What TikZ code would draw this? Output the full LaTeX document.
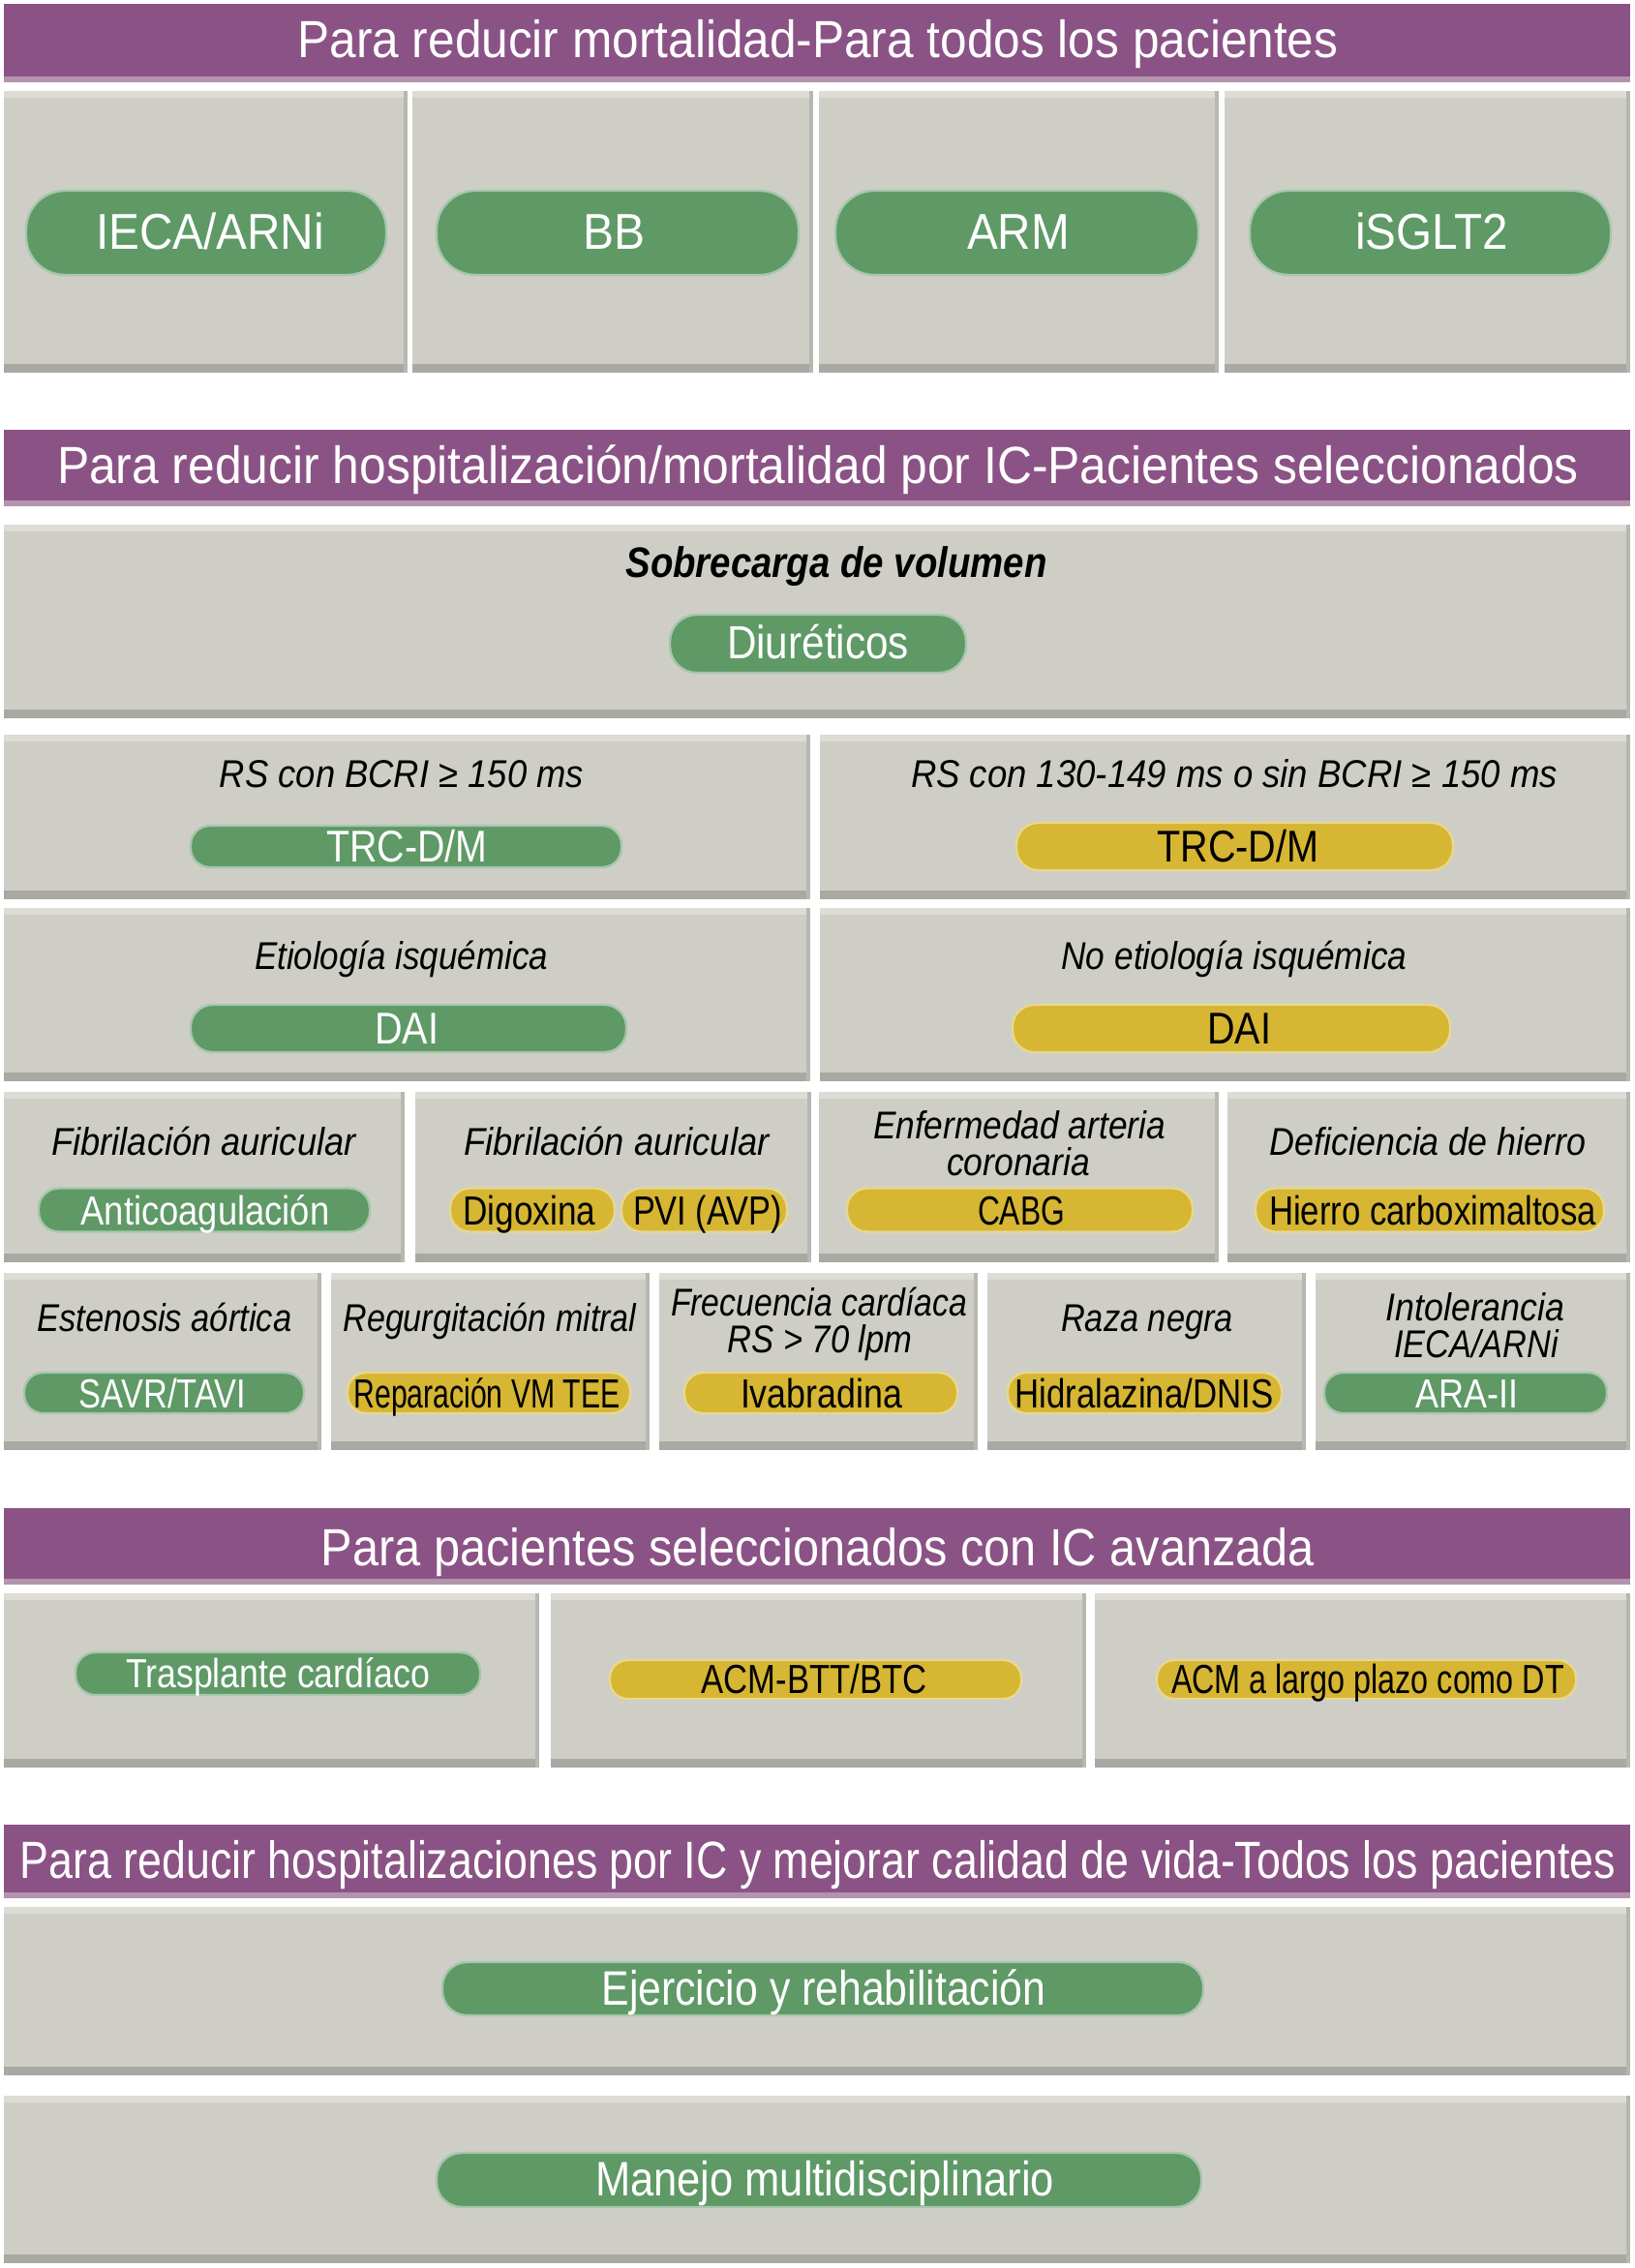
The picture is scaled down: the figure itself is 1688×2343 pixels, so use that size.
\documentclass[tikz,border=0pt]{standalone}
\usepackage{fontspec}
\setmainfont{Liberation Sans}
\usepackage{graphicx}
\definecolor{pur}{HTML}{8B5385}
\definecolor{purlt}{HTML}{B393AE}
\definecolor{pgreen}{HTML}{5E9966}
\definecolor{pyellow}{HTML}{D6B632}
\definecolor{cgray}{HTML}{CFCEC6}
\definecolor{cshadow}{HTML}{A9A8A2}
\definecolor{chi}{HTML}{DDDCD5}
\newcommand\fw[2]{\resizebox{#1}{\height}{#2}}
\newcommand\cellbox[4]{%
  \fill[cgray] (#1,#2) rectangle (#3,#4);
  \fill[chi] (#1,#2) rectangle (#3,#2+7);
  \fill[cshadow] (#1,#4-9) rectangle (#3,#4);
  \fill[cshadow!60!cgray] (#3-4,#2) rectangle (#3,#4);
}
\newcommand\headbox[2]{%
  \fill[pur] (4,#1) rectangle (1684,#2);
  \fill[purlt] (4,#2-6) rectangle (1684,#2);
}
\tikzset{
  pillbase/.style n args={3}{draw=#1!55!white, line width=1.2pt, fill=#1,
    minimum width=#2, minimum height=#3, rounded corners=0.46*#3, inner sep=0pt},
  gp/.style 2 args={pillbase={pgreen}{#1}{#2}},
  yp/.style 2 args={pillbase={pyellow}{#1}{#2}},
  hdt/.style={font=\fontsize{27}{27}\selectfont, text=white, inner sep=0pt, text height=19.3pt, text depth=0pt},
  bigt/.style={font=\fontsize{26}{26}\selectfont, text=white, inner sep=0pt, text height=18.6pt, text depth=0pt},
  ttl/.style={font=\fontsize{20}{20}\selectfont\itshape, text=black, inner sep=0pt, text height=14.3pt, text depth=0pt},
  bttl/.style={font=\fontsize{22}{22}\selectfont\bfseries\itshape, text=black, inner sep=0pt, text height=15.75pt, text depth=0pt},
  mt/.style={font=\fontsize{23}{23}\selectfont, inner sep=0pt, text height=16.5pt, text depth=0pt},
  dt/.style={font=\fontsize{24}{24}\selectfont, inner sep=0pt, text height=17.2pt, text depth=0pt},
  st/.style={font=\fontsize{21}{21}\selectfont, inner sep=0pt, text height=15pt, text depth=0pt},
  lt/.style={font=\fontsize{25}{25}\selectfont, inner sep=0pt, text height=17.9pt, text depth=0pt},
}
\begin{document}
\begin{tikzpicture}[x=0.5pt, y=-0.5pt]
\useasboundingbox (0,0) rectangle (1688,2343);
\fill[white] (0,0) rectangle (1688,2343);

% ---------- Section 1 ----------
\headbox{4}{85}
\node[hdt] (h1) at (845,40) {\fw{537.5pt}{Para reducir mortalidad-Para todos los pacientes}};
\cellbox{4}{94}{421}{385}
\cellbox{426}{94}{840}{385}
\cellbox{846}{94}{1259}{385}
\cellbox{1265}{94}{1684}{385}
\node[gp={186pt}{43.5pt}] (p1) at (213,240.5) {};
\node[gp={187pt}{43.5pt}] (p2) at (638,240.5) {};
\node[gp={187.5pt}{43.5pt}] (p3) at (1050.5,240.5) {};
\node[gp={186.5pt}{43.5pt}] (p4) at (1477.5,240.5) {};
\node[bigt] (t1) at (217,239) {\fw{118pt}{IECA/ARNi}};
\node[bigt] (t2) at (634,239) {\fw{32pt}{BB}};
\node[bigt] (t3) at (1052,239) {\fw{53pt}{ARM}};
\node[bigt] (t4) at (1479,239) {\fw{79pt}{iSGLT2}};

% ---------- Section 2 ----------
\headbox{444}{523}
\node[hdt] (h2) at (845,480) {\fw{786pt}{Para reducir hospitalización/mortalidad por IC-Pacientes seleccionados}};
\cellbox{4}{542}{1684}{742}
\node[bttl] (sv) at (864,581) {\fw{217.5pt}{Sobrecarga de volumen}};
\node[gp={153pt}{30pt}] (pd) at (845,665) {};
\node[dt, text=white] (td) at (845,663) {\fw{94pt}{Diuréticos}};

\cellbox{4}{759}{837}{929}
\cellbox{847}{759}{1684}{929}
\node[ttl] (rs1) at (415,799) {\fw{188pt}{RS con BCRI ≥ 150 ms}};
\node[ttl] (rs2) at (1275,799) {\fw{334pt}{RS con 130-149 ms o sin BCRI ≥ 150 ms}};
\node[gp={222.5pt}{21.5pt}] (ptl) at (419.5,874.5) {};
\node[yp={225.5pt}{24.5pt}] (ptr) at (1275.5,874.5) {};
\node[mt, text=white] (ttl1) at (420.5,874) {\fw{83pt}{TRC-D/M}};
\node[mt, text=black] (ttr1) at (1279,874) {\fw{83.5pt}{TRC-D/M}};

\cellbox{4}{938}{837}{1117}
\cellbox{847}{938}{1684}{1117}
\node[ttl] (et1) at (414.5,987) {\fw{151.5pt}{Etiología isquémica}};
\node[ttl] (et2) at (1275,987) {\fw{178.5pt}{No etiología isquémica}};
\node[gp={225pt}{24.5pt}] (pdl) at (422,1062.5) {};
\node[yp={226pt}{24.5pt}] (pdr) at (1272,1062.5) {};
\node[mt, text=white] (tdl) at (420,1062) {\fw{33pt}{DAI}};
\node[mt, text=black] (tdr) at (1280,1062) {\fw{33pt}{DAI}};

\cellbox{4}{1128}{418}{1304}
\cellbox{429}{1128}{838}{1304}
\cellbox{846}{1128}{1259}{1304}
\cellbox{1268}{1128}{1684}{1304}
\node[ttl] (f1) at (210.5,1179) {\fw{157pt}{Fibrilación auricular}};
\node[ttl] (f2) at (637,1179) {\fw{157.5pt}{Fibrilación auricular}};
\node[ttl] (ea1) at (1053,1162) {\fw{151pt}{Enfermedad arteria}};
\node[ttl] (ea2) at (1052,1200) {\fw{74pt}{coronaria}};
\node[ttl] (dh) at (1475,1179) {\fw{163.5pt}{Deficiencia de hierro}};
\node[gp={171pt}{22.5pt}] (pan) at (211,1250) {};
\node[yp={85pt}{22.5pt}] (pdg) at (550,1250) {};
\node[yp={85.5pt}{22.5pt}] (ppv) at (727.5,1250) {};
\node[yp={178.5pt}{22.5pt}] (pcb) at (1053.5,1250) {};
\node[yp={180pt}{22.5pt}] (phi) at (1477,1250) {};
\node[st, text=white] (tan) at (212,1250) {\fw{128.5pt}{Anticoagulación}};
\node[st, text=black] (tdg) at (547,1250) {\fw{68.5pt}{Digoxina}};
\node[st, text=black] (tpv) at (731,1250) {\fw{77pt}{PVI (AVP)}};
\node[st, text=black] (tcb) at (1055,1250) {\fw{45pt}{CABG}};
\node[st, text=black] (thi) at (1480,1250) {\fw{169pt}{Hierro carboximaltosa}};

\cellbox{4}{1315}{332}{1498}
\cellbox{342}{1315}{671}{1498}
\cellbox{681}{1315}{1010}{1498}
\cellbox{1020}{1315}{1349}{1498}
\cellbox{1359}{1315}{1684}{1498}
\node[ttl] (ea) at (170,1361) {\fw{131.5pt}{Estenosis aórtica}};
\node[ttl] (rm) at (506,1361) {\fw{151.5pt}{Regurgitación mitral}};
\node[ttl] (fc1) at (846,1345) {\fw{153pt}{Frecuencia cardíaca}};
\node[ttl] (fc2) at (847,1383) {\fw{95.5pt}{RS > 70 lpm}};
\node[ttl] (rn) at (1185,1361) {\fw{89pt}{Raza negra}};
\node[ttl] (in1) at (1524,1350) {\fw{92.5pt}{Intolerancia}};
\node[ttl] (in2) at (1525,1388) {\fw{85pt}{IECA/ARNi}};
\node[gp={144.5pt}{21pt}] (psa) at (169.5,1439) {};
\node[yp={146pt}{21pt}] (pre) at (505,1439) {};
\node[yp={141pt}{21pt}] (piv) at (848,1439) {};
\node[yp={141.5pt}{21pt}] (phd) at (1182.5,1439) {};
\node[gp={146pt}{21pt}] (par) at (1514,1439) {};
\node[st, text=white] (tsa) at (168,1439) {\fw{86pt}{SAVR/TAVI}};
\node[st, text=black] (tre) at (503,1439) {\fw{137.5pt}{Reparación VM TEE}};
\node[st, text=black] (tiv) at (848.5,1439) {\fw{83.5pt}{Ivabradina}};
\node[st, text=black] (thd) at (1182,1439) {\fw{133.5pt}{Hidralazina/DNIS}};
\node[st, text=white] (tar) at (1515,1439) {\fw{53pt}{ARA-II}};

% ---------- Section 3 ----------
\headbox{1558}{1637}
\node[hdt] (h3) at (845,1598) {\fw{513pt}{Para pacientes seleccionados con IC avanzada}};
\cellbox{4}{1646}{557}{1826}
\cellbox{569}{1646}{1122}{1826}
\cellbox{1131}{1646}{1684}{1826}
\node[gp={209pt}{22pt}] (ptx) at (287,1729) {};
\node[yp={212.5pt}{20pt}] (pab) at (842.5,1735) {};
\node[yp={216.5pt}{20pt}] (pal) at (1411.5,1735) {};
\node[st, text=white] (ttx) at (287,1728) {\fw{157pt}{Trasplante cardíaco}};
\node[st, text=black] (tab) at (841,1734) {\fw{116.5pt}{ACM-BTT/BTC}};
\node[st, text=black] (tal) at (1413,1734) {\fw{203pt}{ACM a largo plazo como DT}};

% ---------- Section 4 ----------
\headbox{1885}{1961}
\node[hdt] (h4) at (845,1921) {\fw{824pt}{Para reducir hospitalizaciones por IC y mejorar calidad de vida-Todos los pacientes}};
\cellbox{4}{1970}{1684}{2144}
\cellbox{4}{2165}{1684}{2338}
\node[gp={393pt}{27.5pt}] (pej) at (850,2054.5) {};
\node[gp={395pt}{28pt}] (pma) at (846,2252) {};
\node[lt, text=white] (tej) at (851,2054) {\fw{229.5pt}{Ejercicio y rehabilitación}};
\node[lt, text=white] (tma) at (852,2251) {\fw{237pt}{Manejo multidisciplinario}};
\end{tikzpicture}
\end{document}
